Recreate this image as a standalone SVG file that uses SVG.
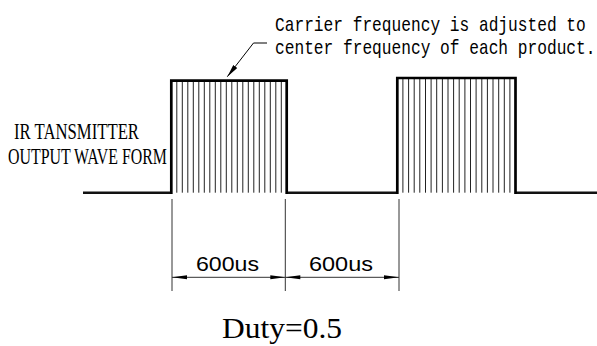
<svg xmlns="http://www.w3.org/2000/svg" width="597" height="346" viewBox="0 0 597 346">
<style>
.pulse{fill:none;stroke:#000;stroke-width:2.7}
.hatch{stroke:#222;stroke-width:1}
.base{fill:none;stroke:#111;stroke-width:2.6}
.ext{stroke:#333;stroke-width:1}
.dim{stroke:#333;stroke-width:1;marker-start:url(#arrS);marker-end:url(#arrE)}
.mono{font-family:"Liberation Mono",monospace;font-size:16.2px;fill:#000}
.lbl{font-family:"Liberation Serif",serif;font-size:23px;fill:#000}
.dimt{font-family:"Liberation Sans",Arial,sans-serif;font-size:20px;fill:#000}
.duty{font-family:"Liberation Serif","Times New Roman",serif;font-size:30px;fill:#000}
</style>
<defs>
<marker id="arrE" markerUnits="userSpaceOnUse" markerWidth="16" markerHeight="6" refX="15" refY="3" orient="auto">
<path d="M0,1 L15,3 L0,5 Z" fill="#000"/>
</marker>
<marker id="arrS" markerUnits="userSpaceOnUse" markerWidth="16" markerHeight="6" refX="0" refY="3" orient="auto">
<path d="M15,1 L0,3 L15,5 Z" fill="#000"/>
</marker>
<marker id="lead" markerUnits="userSpaceOnUse" markerWidth="14" markerHeight="8" refX="13" refY="4" orient="auto">
<path d="M0,1.5 L13,4 L0,6.5 Z" fill="#000"/>
</marker>
</defs>

<g id="baseline">
<path class="base" d="M83,192.7 H171.3 M286.7,192.7 H397.3 M515.5,192.7 H597"/>
</g>

<g id="pulse1">
<g class="hatch">
<line x1="176.8" y1="81" x2="176.8" y2="192.7"/><line x1="182.3" y1="81" x2="182.3" y2="192.7"/>
<line x1="187.8" y1="81" x2="187.8" y2="192.7"/><line x1="193.3" y1="81" x2="193.3" y2="192.7"/>
<line x1="198.8" y1="81" x2="198.8" y2="192.7"/><line x1="204.3" y1="81" x2="204.3" y2="192.7"/>
<line x1="209.8" y1="81" x2="209.8" y2="192.7"/><line x1="215.3" y1="81" x2="215.3" y2="192.7"/>
<line x1="220.8" y1="81" x2="220.8" y2="192.7"/><line x1="226.3" y1="81" x2="226.3" y2="192.7"/>
<line x1="231.8" y1="81" x2="231.8" y2="192.7"/><line x1="237.3" y1="81" x2="237.3" y2="192.7"/>
<line x1="242.8" y1="81" x2="242.8" y2="192.7"/><line x1="248.3" y1="81" x2="248.3" y2="192.7"/>
<line x1="253.8" y1="81" x2="253.8" y2="192.7"/><line x1="259.3" y1="81" x2="259.3" y2="192.7"/>
<line x1="264.8" y1="81" x2="264.8" y2="192.7"/><line x1="270.3" y1="81" x2="270.3" y2="192.7"/>
<line x1="275.8" y1="81" x2="275.8" y2="192.7"/><line x1="281.3" y1="81" x2="281.3" y2="192.7"/>
</g>
<path class="pulse" d="M171.3,194 V80.7 H286.7 V194"/>
</g>

<g id="pulse2">
<g class="hatch">
<line x1="402.9" y1="78" x2="402.9" y2="192.7"/><line x1="408.6" y1="78" x2="408.6" y2="192.7"/>
<line x1="414.2" y1="78" x2="414.2" y2="192.7"/><line x1="419.8" y1="78" x2="419.8" y2="192.7"/>
<line x1="425.5" y1="78" x2="425.5" y2="192.7"/><line x1="431.1" y1="78" x2="431.1" y2="192.7"/>
<line x1="436.7" y1="78" x2="436.7" y2="192.7"/><line x1="442.4" y1="78" x2="442.4" y2="192.7"/>
<line x1="448.0" y1="78" x2="448.0" y2="192.7"/><line x1="453.6" y1="78" x2="453.6" y2="192.7"/>
<line x1="459.2" y1="78" x2="459.2" y2="192.7"/><line x1="464.9" y1="78" x2="464.9" y2="192.7"/>
<line x1="470.5" y1="78" x2="470.5" y2="192.7"/><line x1="476.1" y1="78" x2="476.1" y2="192.7"/>
<line x1="481.8" y1="78" x2="481.8" y2="192.7"/><line x1="487.4" y1="78" x2="487.4" y2="192.7"/>
<line x1="493.0" y1="78" x2="493.0" y2="192.7"/><line x1="498.7" y1="78" x2="498.7" y2="192.7"/>
<line x1="504.3" y1="78" x2="504.3" y2="192.7"/><line x1="509.9" y1="78" x2="509.9" y2="192.7"/>
</g>
<path class="pulse" d="M397.3,194 V78 H515.5 V194"/>
</g>

<g id="label-wave">
<text class="lbl" x="14" y="139" textLength="125" lengthAdjust="spacingAndGlyphs">IR TANSMITTER</text>
<text class="lbl" x="8" y="164" textLength="159" lengthAdjust="spacingAndGlyphs">OUTPUT WAVE FORM</text>
</g>

<g id="note">
<text class="mono" transform="translate(275,31) scale(1,1.2)" x="0" y="0">Carrier frequency is adjusted to</text>
<text class="mono" transform="translate(275,54) scale(1,1.2)" x="0" y="0">center frequency of each product.</text>
</g>

<g id="connectors">
<path d="M267,43 H253.5 L227.3,76.7" fill="none" stroke="#000" stroke-width="1" marker-end="url(#lead)"/>
<line class="ext" x1="172" y1="199" x2="172" y2="291"/>
<line class="ext" x1="285.3" y1="199" x2="285.3" y2="291"/>
<line class="ext" x1="399" y1="199" x2="399" y2="291"/>
<line class="dim" x1="172" y1="277.3" x2="285.3" y2="277.3"/>
<line class="dim" x1="285.3" y1="277.3" x2="399" y2="277.3"/>
</g>

<g id="dim-labels">
<text class="dimt" x="196" y="271" textLength="63" lengthAdjust="spacingAndGlyphs">600us</text>
<text class="dimt" x="309" y="271" textLength="64" lengthAdjust="spacingAndGlyphs">600us</text>
</g>

<g id="duty">
<text class="duty" x="222" y="338" textLength="120" lengthAdjust="spacingAndGlyphs">Duty=0.5</text>
</g>
</svg>
